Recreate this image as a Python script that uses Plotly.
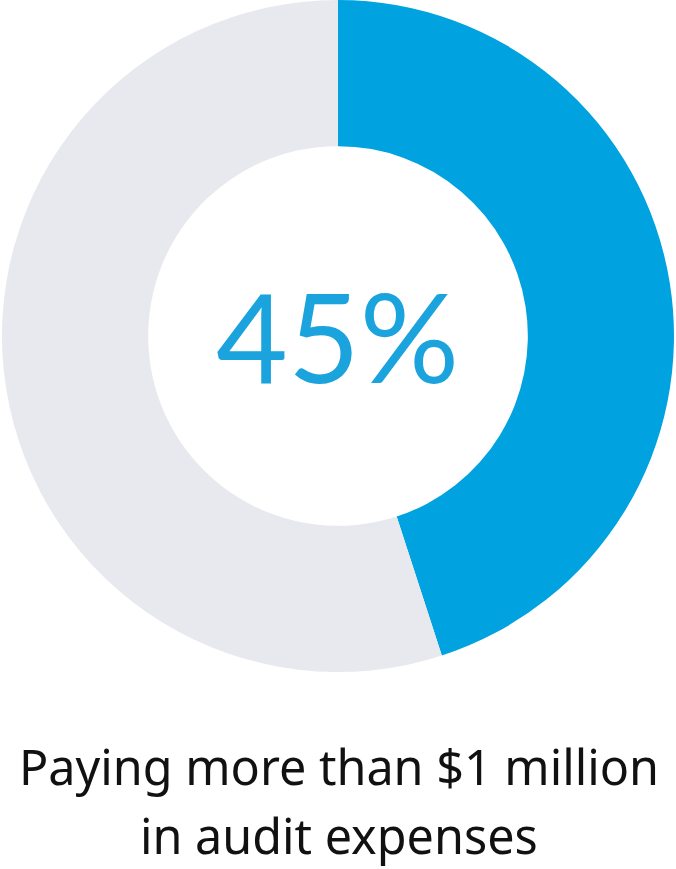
import plotly.graph_objects as go

labels = ["Paying more than $1 million", "Other"]
values = [45, 55]
colors = ["#00A3DF", "#E8E9EF"]
center_label = "45%"
caption_lines = ["Paying more than $1 million", "in audit expenses"]

W, H = 676, 869

fig = go.Figure(go.Pie(
    labels=labels, values=values, hole=0.565, sort=False,
    direction="clockwise", rotation=0,
    marker=dict(colors=colors, line=dict(width=0)),
    textinfo="none", hoverinfo="skip", showlegend=False,
    domain=dict(x=[2 / W, 674 / W], y=[1 - 672 / H, 1.0]),
))

fig.add_annotation(x=337 / W, y=1 - 335 / H, xref="paper", yref="paper",
                   text=center_label, showarrow=False, xanchor="center", yanchor="middle",
                   font=dict(family="Lato", size=124, color="#1BA3DD"))
fig.add_annotation(x=339 / W, y=1 - 766 / H, xref="paper", yref="paper",
                   text=caption_lines[0], showarrow=False, xanchor="center", yanchor="middle",
                   font=dict(family="Noto Sans", size=48.5, color="#111111"))
fig.add_annotation(x=339 / W, y=1 - 835 / H, xref="paper", yref="paper",
                   text=caption_lines[1], showarrow=False, xanchor="center", yanchor="middle",
                   font=dict(family="Noto Sans", size=48.5, color="#111111"))

fig.update_layout(width=W, height=H, margin=dict(l=0, r=0, t=0, b=0),
                  paper_bgcolor="white", plot_bgcolor="white")
fig.write_html("out.html", config={"displayModeBar": False},
               post_script="document.body.style.margin='0';document.body.style.overflow='hidden';")
